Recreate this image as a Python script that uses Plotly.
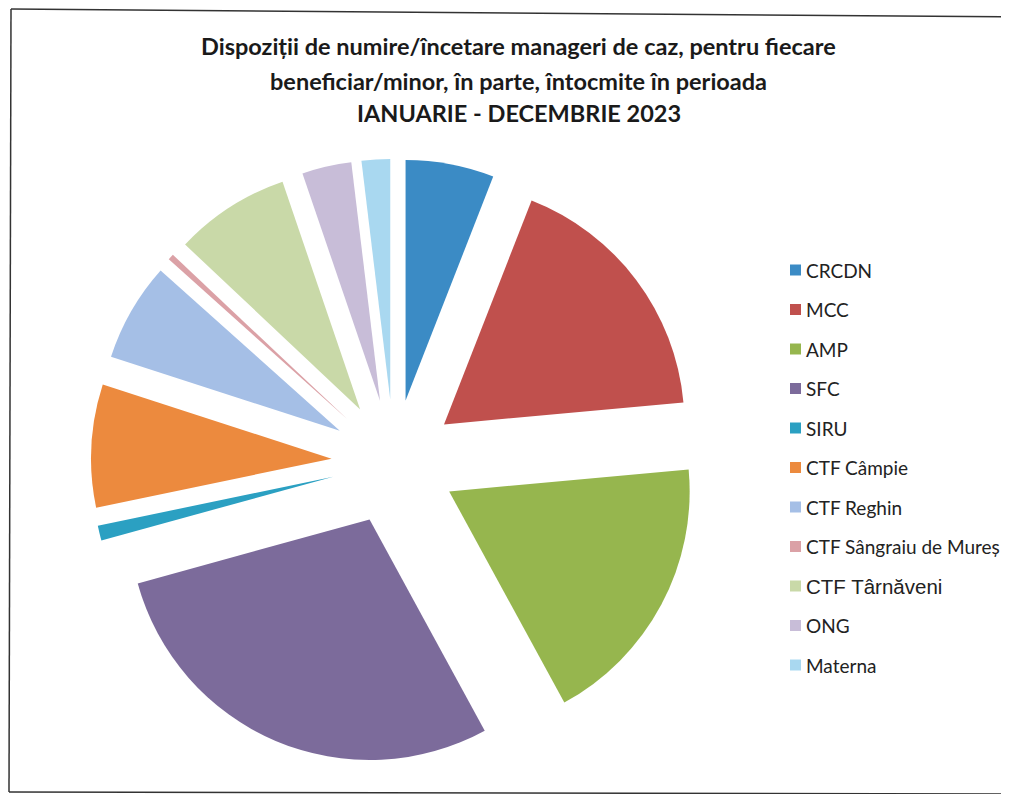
import plotly.graph_objects as go

labels = ["CRCDN", "MCC", "AMP", "SFC", "SIRU", "CTF Câmpie", "CTF Reghin",
          "CTF Sângraiu de Mureș", "CTF Târnăveni", "ONG", "Materna"]
values = [59, 175, 184, 285, 10, 82, 66, 4, 77, 33, 19]
colors = ["#3b8bc5", "#c0504d", "#96b64e", "#7c6b9b", "#2ba0c2", "#ec8a3e",
          "#a5bfe6", "#dba1a6", "#c9d9a8", "#c8bdd8", "#a9d8f0"]
title_lines = ["Dispoziții de numire/încetare manageri de caz, pentru fiecare",
               "beneficiar/minor, în parte, întocmite în perioada",
               "IANUARIE - DECEMBRIE 2023"]

W, H = 1009, 794
OFF = 8  # page body margin


def px(x):
    return (x - OFF) / W


def py(y):
    return 1 - (y - OFF) / H


fig = go.Figure()
fig.add_trace(go.Pie(
    labels=labels, values=values, sort=False, direction="clockwise", rotation=0,
    marker=dict(colors=colors, line=dict(width=0)),
    pull=[0.26] * len(values), textinfo="none", hoverinfo="label+value+percent",
    showlegend=False,
    domain=dict(x=[px(91), px(697)], y=[py(765), py(159)]),
))

annotations = []
shapes = []
# title
for i, (t, yc) in enumerate(zip(title_lines, [47, 82, 114])):
    annotations.append(dict(text=t, x=px(519), y=py(yc - 1), xref="paper", yref="paper",
                            xanchor="center", yanchor="middle", showarrow=False,
                            font=dict(family="Lato", size=23.5, color="#1a1a1a", weight="bold")))
# legend
for i, (lab, col) in enumerate(zip(labels, colors)):
    yc = 270 + i * 39.5
    shapes.append(dict(type="rect", xref="paper", yref="paper",
                       x0=px(790), x1=px(801), y0=py(yc + 5.5), y1=py(yc - 5.5),
                       fillcolor=col, line=dict(width=0)))
    fam = "Liberation Sans" if lab == "CTF Târnăveni" else "Lato"
    sz = 20.5 if lab == "CTF Târnăveni" else 19
    annotations.append(dict(text=lab, x=px(804), y=py(yc), xref="paper", yref="paper",
                            xanchor="left", yanchor="middle", showarrow=False,
                            font=dict(family=fam, size=sz, color="#222")))
# scanned frame
for (x0, y0, x1, y1) in [(11, 9, 1017, 17), (11, 9, 9, 792), (9, 792, 1017, 794)]:
    shapes.append(dict(type="line", xref="paper", yref="paper",
                       x0=px(x0), y0=py(y0), x1=px(x1), y1=py(y1),
                       line=dict(color="#333", width=1.5)))

fig.update_layout(width=W, height=H, margin=dict(l=0, r=0, t=0, b=0),
                  paper_bgcolor="white", plot_bgcolor="white",
                  annotations=annotations, shapes=shapes)
fig.write_html("out.html")
